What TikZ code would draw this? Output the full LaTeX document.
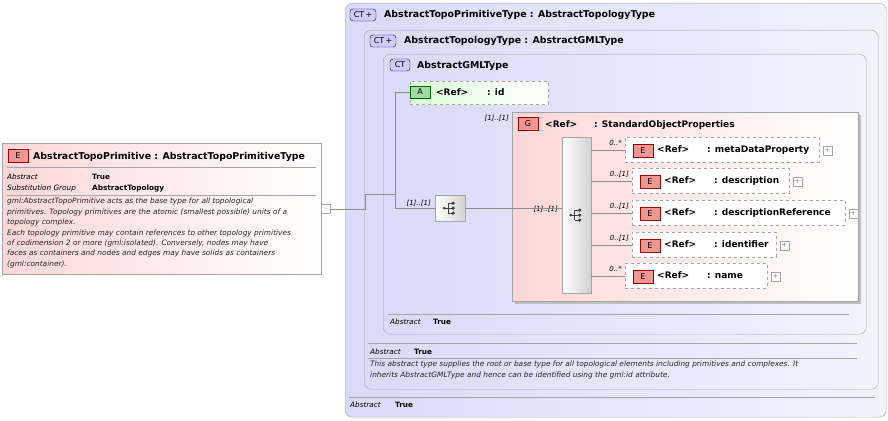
\documentclass[tikz,border=0pt]{standalone}
\usepackage{fontspec}
\setmainfont{DejaVu Sans}
\usetikzlibrary{positioning, calc}

\definecolor{ctfill}{RGB}{218,218,250}
\definecolor{edge}{RGB}{165,165,165}
\definecolor{elfill}{RGB}{253,215,215}
\definecolor{badgered}{RGB}{240,150,150}
\definecolor{afill}{RGB}{220,252,215}
\definecolor{abadge}{RGB}{160,220,160}
\definecolor{ctbadge}{RGB}{205,205,250}

\tikzset{
  ct box/.style={draw=edge, rounded corners=7pt, left color=ctfill, right color=ctfill!35, anchor=north west, inner sep=0},
  el box/.style={draw=edge, left color=elfill, right color=white, anchor=north west, inner sep=0},
  ref box/.style={draw=edge, dashed, fill=white, anchor=north west, inner sep=0},
  seq box/.style={draw=edge, left color=white, right color=black!18, anchor=north west, inner sep=0},
  badge/.style={draw=red!60!black, fill=badgered, inner sep=0, minimum width=20pt, minimum height=13pt, font=\fontsize{8}{8}\selectfont},
  ct badge/.style={draw=blue!50!black, fill=ctbadge, rounded corners=3pt, inner sep=0, minimum height=12pt, font=\fontsize{8}{8}\selectfont},
  title/.style={anchor=base west, inner sep=0, font=\fontsize{9.4}{10}\selectfont\bfseries},
  ref/.style={anchor=base west, inner sep=0, font=\fontsize{9}{10}\selectfont\bfseries},
  lbl/.style={anchor=base west, inner sep=0, font=\fontsize{7.3}{9}\selectfont\itshape},
  val/.style={anchor=base west, inner sep=0, font=\fontsize{7.3}{9}\selectfont\bfseries},
  desc/.style={anchor=north west, inner sep=0, align=left, font=\fontsize{7.4}{10.4}\selectfont\itshape, text=black!85},
  card/.style={anchor=base east, inner sep=0, font=\fontsize{7}{8}\selectfont\itshape},
  sep/.style={draw=edge},
  wire/.style={draw=black!45},
  plusbox/.style={draw=edge, fill=white, minimum size=9pt, inner sep=0, font=\fontsize{7}{7}\selectfont, text=black!50},
  seqicon/.pic={
    \fill[black!75] (-6,0) circle (1.5);
    \draw[black!75, line width=0.8pt] (-6,0) -- (-2,0) (-2,-5) -- (-2,5) (-2,-5) -- (3,-5) (-2,0) -- (3,0) (-2,5) -- (3,5);
    \foreach \yy in {-5,0,5} \fill[black!75] (3,\yy) circle (1.8);
  }
}

\begin{document}
\begin{tikzpicture}[x=1pt, y=-1pt]
\useasboundingbox (0,0) rectangle (888,420);

% Element on the left
\node[el box, minimum width=319pt, minimum height=131pt] (topo) at (2,143) {};
\node[badge] (topoE) at (18,156) {E};
\node[title] at (33,159) {AbstractTopoPrimitive : AbstractTopoPrimitiveType};
\draw[sep] (7,167) -- (316,167) (7,195) -- (316,195);
\node[lbl] at (7,179) {Abstract};
\node[val] at (92,179) {True};
\node[lbl] at (7,190) {Substitution Group};
\node[val] at (92,190) {AbstractTopology};
\node[desc] at (7,198) {gml:AbstractTopoPrimitive acts as the base type for all topological\\
primitives. Topology primitives are the atomic (smallest possible) units of a\\
topology complex.\\
Each topology primitive may contain references to other topology primitives\\
of codimension 2 or more (gml:isolated). Conversely, nodes may have\\
faces as containers and nodes and edges may have solids as containers\\
(gml:container).};
\node[plusbox] (minus) at (326,209) {--};

% Complex types
\node[ct box, minimum width=541pt, minimum height=414pt] (ctA) at (345,3) {};
\node[ct badge, minimum width=26pt] at (363,15) {CT\,+};
\node[title] at (384,18) {AbstractTopoPrimitiveType : AbstractTopologyType};
\draw[sep] (349,397) -- (875,397);
\node[lbl] at (350,407) {Abstract};
\node[val] at (395,407) {True};

\node[ct box, minimum width=514pt, minimum height=359pt] (ctB) at (364,30) {};
\node[ct badge, minimum width=26pt] at (383,41) {CT\,+};
\node[title] at (404,44) {AbstractTopologyType : AbstractGMLType};
\draw[sep] (368,343) -- (857,343) (368,358) -- (857,358);
\node[lbl] at (370,354) {Abstract};
\node[val] at (414,354) {True};
\node[desc] at (370,361) {This abstract type supplies the root or base type for all topological elements including primitives and complexes. It\\
inherits AbstractGMLType and hence can be identified using the gml:id attribute.};

\node[ct box, minimum width=483pt, minimum height=280pt] (ctC) at (383,54) {};
\node[ct badge, minimum width=20pt] at (400,65) {CT};
\node[title] at (417,68) {AbstractGMLType};
\draw[sep] (388,314) -- (849,314);
\node[lbl] at (390,324) {Abstract};
\node[val] at (433,324) {True};

% Attribute
\node[draw=edge, dashed, left color=afill, right color=white, inner sep=0, minimum width=138pt, minimum height=23pt, anchor=north west] (attr) at (410,81) {};
\node[draw=green!40!black, fill=abadge, inner sep=0, minimum width=20pt, minimum height=12pt, font=\fontsize{8}{8}\selectfont] (attrA) at (420,92) {A};
\node[ref] at (436,95) {<Ref>};
\node[ref] at (487,95) {: id};

% Sequences and group
\node[seq box, minimum width=30pt, minimum height=26pt] (seqA) at (435,195) {};
\pic at (seqA.center) {seqicon};
\node[card] at (431,205) {[1]..[1]};

\fill[black!25] (515,115) rectangle (861,304);
\node[el box, minimum width=346pt, minimum height=189pt] (grp) at (512,112) {};
\node[card] at (509,120) {[1]..[1]};
\node[badge] at (528,124) {G};
\node[ref] at (545,127) {<Ref>};
\node[ref] at (594,127) {: StandardObjectProperties};

\node[seq box, minimum width=29pt, minimum height=156pt] (seqB) at (562,137) {};
\pic at (seqB.center) {seqicon};
\node[card] at (558,211) {[1]..[1]};

% Children
\foreach \nm/\xx/\yy/\ww/\cc/\gap [count=\i] in
  {metaDataProperty/625/137/194/0..*/50,
   description/632/168/157/0..[1]/50,
   descriptionReference/632/200/213/0..[1]/50,
   identifier/632/232/144/0..[1]/50,
   name/625/263/142/0..*/50}{
  \node[ref box, minimum width=\ww pt, minimum height=25pt] (c\i) at (\xx,\yy) {};
  \node[badge] at ($(c\i.west)+(18,1)$) {E};
  \node[ref] at ($(c\i.west)+(32,3)$) {<Ref>};
  \node[ref] at ($(c\i.west)+(32+\gap,3)$) {: \nm};
  \node[plusbox] at ($(c\i.east)+(8,1)$) {+};
  \node[card] at ($(c\i.west)+(-3,-4)$) {\cc};
  \draw[wire] (seqB.east |- c\i.west) -- (c\i.west);
}

% Connectors
\coordinate (j1) at (365,194);
\coordinate (j2) at (395,194);
\draw[wire] (minus.east) -- (minus.east -| j1) -- (j1) -- (j2);
\draw[wire] (attrA.west) -- (attrA.west -| j2) |- (seqA.west);
\draw[wire] (seqA.east) -- (seqA.east -| seqB.west);
\end{tikzpicture}
\end{document}
